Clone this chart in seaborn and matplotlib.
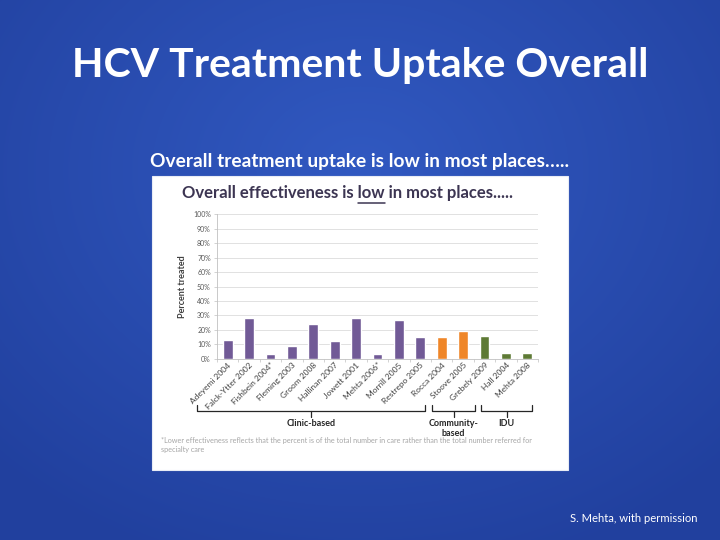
import numpy as np
import pandas as pd
import matplotlib
matplotlib.use('Agg')
import matplotlib.pyplot as plt
from matplotlib.patches import Rectangle
from matplotlib.lines import Line2D
from matplotlib.ticker import FuncFormatter, MultipleLocator, FixedLocator
import seaborn as sns

##### DATA #####
studies = ['Adeyemi 2004', 'Falck-Ytter 2002', 'Fishbein 2004*', 'Fleming 2003',
           'Groom 2008', 'Hallinan 2007', 'Jowett 2001', 'Mehta 2006*',
           'Morrill 2005', 'Restrepo 2005', 'Rocca 2004', 'Stoove 2005',
           'Grebely 2009', 'Hall 2004', 'Mehta 2008']
pct_treated = [13, 28, 3, 9, 24, 12, 28, 3, 27, 15, 15, 19, 16, 4, 4]
setting = ['Clinic-based', 'Clinic-based', 'Clinic-based', 'Clinic-based',
           'Clinic-based', 'Clinic-based', 'Clinic-based', 'Clinic-based',
           'Clinic-based', 'Clinic-based', 'Community-based', 'Community-based',
           'IDU', 'IDU', 'IDU']
group_labels = {'Clinic-based': 'Clinic-based',
                'Community-based': 'Community-\nbased',
                'IDU': 'IDU'}
colors = {'Clinic-based': '#715a96', 'Community-based': '#ef8628', 'IDU': '#5e7a35'}

df = pd.DataFrame({'study': studies, 'pct': pct_treated, 'setting': setting})
#####

sns.set_style('white')
plt.rcParams['font.family'] = ['Lato', 'DejaVu Sans']


def fx(px):
    return px / 720.0


def fy(py):
    return 1 - py / 540.0


fig = plt.figure(figsize=(7.2, 5.4), dpi=100)

# slide background (soft radial blue)
bg = fig.add_axes([0, 0, 1, 1])
yy, xx = np.mgrid[0:540, 0:720]
rr = np.sqrt(((xx - 360) / 520.0) ** 2 + ((yy - 170) / 420.0) ** 2)
rr = np.clip(rr, 0, 1)[..., None]
c_in = np.array([49, 89, 193]) / 255.0
c_out = np.array([33, 64, 158]) / 255.0
img = c_in * (1 - rr) + c_out * rr
bg.imshow(img, extent=[0, 1, 0, 1], aspect='auto', origin='upper')
bg.set_xlim(0, 1)
bg.set_ylim(0, 1)
bg.axis('off')

# white picture panel
bg.add_patch(Rectangle((fx(152), fy(470)), fx(568) - fx(152), fy(176) - fy(470),
                       facecolor='white', edgecolor='#e8ecf5', lw=0.8, zorder=2))

# slide texts
fig.text(0.5, fy(65), 'HCV Treatment Uptake Overall', color='white',
         fontsize=29.5, fontweight='bold', ha='center', va='center')
fig.text(fx(359.5), fy(161), 'Overall treatment uptake is low in most places…..',
         color='white', fontsize=13.8, fontweight='bold', ha='center', va='center')
fig.text(fx(698), fy(519), 'S. Mehta, with permission', color='white',
         fontsize=8.1, ha='right', va='center')

##### PLOTTING #####
ax = fig.add_axes([fx(217), fy(358.7), fx(538) - fx(217), (358.7 - 214.3) / 540.0])
ax.set_zorder(3)
ax.patch.set_alpha(0)

sns.barplot(data=df, x='study', y='pct', hue='setting', palette=colors,
            dodge=False, width=0.45, saturation=1, legend=False, ax=ax)

ax.set_xlim(-0.5, len(studies) - 0.5)
ax.set_ylim(0, 100)
ax.yaxis.set_major_locator(MultipleLocator(10))
ax.yaxis.set_major_formatter(FuncFormatter(lambda v, p: '%d%%' % v))
ax.yaxis.grid(True, color='#dcdcdc', lw=0.6)
ax.set_axisbelow(True)
for s in ['top', 'right']:
    ax.spines[s].set_visible(False)
for s in ['left', 'bottom']:
    ax.spines[s].set_color('#c0c0c0')
    ax.spines[s].set_linewidth(0.6)

ax.tick_params(axis='y', length=2.5, width=0.5, color='#c0c0c0', labelsize=5,
               labelcolor='#595959', pad=2, left=True)
ax.tick_params(axis='x', which='major', length=0, labelsize=6,
               labelcolor='#404040', pad=2)
ax.xaxis.set_minor_locator(FixedLocator([i + 0.5 for i in range(-1, len(studies))]))
ax.tick_params(axis='x', which='minor', length=2.5, width=0.5, color='#c0c0c0',
               bottom=True)
for lab in ax.get_xticklabels():
    lab.set_rotation(45)
    lab.set_ha('right')
    lab.set_rotation_mode('anchor')

ax.set_xlabel('')
ax.set_ylabel('Percent treated', fontsize=6.5, fontweight='bold', color='#404040',
               labelpad=4)

# group brackets below the labels (pixel spans)
spans = [('Clinic-based', 197, 425), ('Community-based', 432, 475), ('IDU', 481, 532)]
for key, x0, x1 in spans:
    xm = (x0 + x1) / 2.0
    fig.add_artist(Line2D([fx(x0), fx(x0), fx(x1), fx(x1)],
                          [fy(405), fy(411), fy(411), fy(405)],
                          color='#262626', lw=0.9, zorder=4))
    fig.add_artist(Line2D([fx(xm), fx(xm)], [fy(411), fy(417)],
                          color='#262626', lw=0.9, zorder=4))
    fig.text(fx(xm), fy(419), group_labels[key], fontsize=6.5, fontweight='bold',
             color='#262626', ha='center', va='top', linespacing=1.2, zorder=5)

fig.text(fx(161), fy(437), '*Lower effectiveness reflects that the percent is of the '
         'total number in care rather than the total number referred for\nspecialty care',
         fontsize=5.2, color='#a6a6a6', ha='left', va='top', linespacing=1.4, zorder=5)

# inner title with "low" underlined
r = fig.canvas.get_renderer()
tx, ty = fx(182), fy(193)
title_kw = dict(fontsize=12, fontweight='bold', color='#3c3552', va='center',
                ha='left', zorder=5)
fig.text(tx, ty, 'Overall effectiveness is low in most places.....', **title_kw)


def width_of(s):
    t = fig.text(0, 0, s, **title_kw)
    w = t.get_window_extent(r).width
    t.remove()
    return w


w_pre = width_of('Overall effectiveness is low')
w_low = width_of('low')
ux1 = tx + w_pre / 720.0
ux0 = ux1 - w_low / 720.0
fig.add_artist(Line2D([ux0, ux1], [fy(203), fy(203)], color='#3c3552', lw=1.1, zorder=5))

plt.savefig('out.png', dpi=100)
